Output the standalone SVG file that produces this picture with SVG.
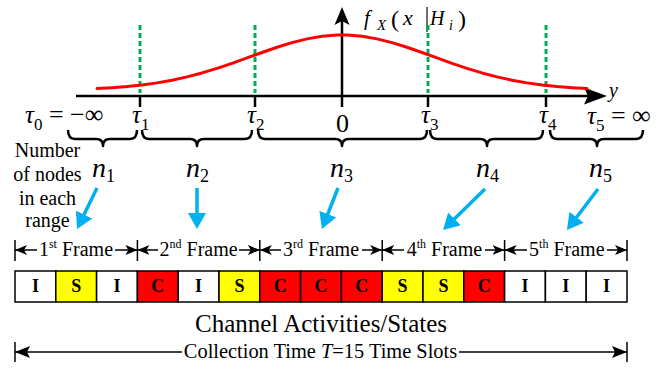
<svg xmlns="http://www.w3.org/2000/svg" width="671" height="371" viewBox="0 0 671 371">
<style>
text{font-family:"Liberation Serif","Times New Roman",serif;fill:#000}
.it{font-style:italic}
.ax{stroke:#000;stroke-width:2.5;fill:none}
.thr{stroke:#00B050;stroke-width:3;stroke-dasharray:5 3;fill:none}
.br{stroke:#000;stroke-width:2.5;fill:none;stroke-linejoin:round}
.blue{stroke:#00B0F0;stroke-width:3.5;fill:none;marker-end:url(#ab)}
.fl{stroke:#000;stroke-width:1.5;fill:none}
.tk{stroke:#000;stroke-width:1.5}
.cell{stroke:#000;stroke-width:1.5}
.I{fill:#FFFFFF}.S{fill:#FFFF00}.C{fill:#FF0000}
.cl{font-weight:bold;font-size:18px;text-anchor:middle}
.fr{font-size:20px;text-anchor:middle}
.tau{font-size:25px;font-style:italic}
.sub{font-size:17px}
</style>
<defs>
<marker id="ab" viewBox="0 0 16 18" refX="6" refY="9" markerWidth="16" markerHeight="18" markerUnits="userSpaceOnUse" orient="auto"><path d="M0,0 L16,9 L0,18 z" fill="#00B0F0"/></marker>
<marker id="af" viewBox="0 0 12 10" refX="12" refY="5" markerWidth="12" markerHeight="10" markerUnits="userSpaceOnUse" orient="auto-start-reverse"><path d="M0,0 L12,5 L0,10 L3,5 z" fill="#000"/></marker>
<marker id="ac" viewBox="0 0 15 12" refX="15" refY="6" markerWidth="15" markerHeight="12" markerUnits="userSpaceOnUse" orient="auto-start-reverse"><path d="M0,0 L15,6 L0,12 L3,6 z" fill="#000"/></marker>
</defs>

<g id="axes">
<line class="ax" x1="76" y1="96" x2="592" y2="96"/>
<path d="M607,96 L584,87.5 L588,96 L584,104.5 z" fill="#000"/>
<line class="ax" x1="342" y1="107" x2="342" y2="20"/>
<path d="M342,7 L334.5,25 L342,21 L349.5,25 z" fill="#000"/>
<line class="ax" x1="140" y1="96" x2="140" y2="107"/>
<line class="ax" x1="255" y1="96" x2="255" y2="107"/>
<line class="ax" x1="428" y1="96" x2="428" y2="107"/>
<line class="ax" x1="546" y1="96" x2="546" y2="107"/>
<text class="it" x="609" y="97" font-size="20">y</text>
</g>

<g id="pdf-label">
<text class="it" x="364" y="25" font-size="21">f</text>
<text class="it" x="377" y="30" font-size="15">X</text>
<text x="391" y="27" font-size="24">(</text>
<text class="it" x="403" y="25" font-size="22">x</text>
<line x1="427" y1="7" x2="427" y2="32" stroke="#404040" stroke-width="1.5"/>
<text class="it" x="430" y="25" font-size="20">H</text>
<text class="it" x="449" y="30" font-size="14">i</text>
<text x="458" y="27" font-size="24">)</text>
</g>

<g id="thresholds">
<line class="thr" x1="140" y1="25" x2="140" y2="93"/>
<line class="thr" x1="255" y1="25" x2="255" y2="93"/>
<line class="thr" x1="428" y1="25" x2="428" y2="93"/>
<line class="thr" x1="546" y1="25" x2="546" y2="93"/>
</g>

<g id="curve">
<polyline fill="none" stroke="#FF0000" stroke-width="3" stroke-linecap="round" stroke-linejoin="round" points="97,88.48 112,87.66 127,86.52 142,84.96 157,82.88 172,80.21 187,76.91 202,72.93 217,68.37 232,63.3 247,57.93 262,52.49 277,47.26 292,42.64 307,38.89 322,36.31 337,35.08 342,35 347,35.08 362,36.31 377,38.89 392,42.64 407,47.26 422,52.49 437,57.93 452,63.3 467,68.37 482,72.93 497,76.91 512,80.21 527,82.88 542,84.96 557,86.52 572,87.66 587,88.48"/>
</g>

<g id="tau-labels">
<text x="25" y="123"><tspan class="tau">τ</tspan><tspan class="sub" dy="7">0</tspan><tspan font-size="26" dy="-7"> = −∞</tspan></text>
<text x="132" y="123"><tspan class="tau">τ</tspan><tspan class="sub" dy="7">1</tspan></text>
<text x="247" y="123"><tspan class="tau">τ</tspan><tspan class="sub" dy="7">2</tspan></text>
<text x="342.5" y="132" font-size="26" text-anchor="middle">0</text>
<text x="421" y="123"><tspan class="tau">τ</tspan><tspan class="sub" dy="7">3</tspan></text>
<text x="539" y="123"><tspan class="tau">τ</tspan><tspan class="sub" dy="7">4</tspan></text>
<text x="587" y="124"><tspan class="tau">τ</tspan><tspan class="sub" dy="7">5</tspan><tspan font-size="26" dy="-7"> = ∞</tspan></text>
</g>

<g id="braces">
<path class="br" d="M68,130 Q68,139 75,139 L96,139 Q103,139 103,146 Q103,139 110,139 L130,139 Q137,139 137,130"/>
<path class="br" d="M142,130 Q142,139 149,139 L190,139 Q197,139 197,146 Q197,139 204,139 L245,139 Q252,139 252,130"/>
<path class="br" d="M258,130 Q258,139 265,139 L335,139 Q342,139 342,146 Q342,139 349,139 L420,139 Q427,139 427,130"/>
<path class="br" d="M430,130 Q430,139 437,139 L480,139 Q487,139 487,146 Q487,139 494,139 L536,139 Q543,139 543,130"/>
<path class="br" d="M550,130 Q550,139 557,139 L590,139 Q597,139 597,146 Q597,139 604,139 L636,139 Q643,139 643,130"/>
</g>

<g id="range-note">
<text x="47.5" y="157" font-size="20" text-anchor="middle">Number</text>
<text x="47.5" y="181" font-size="20" text-anchor="middle">of nodes</text>
<text x="47.5" y="204.5" font-size="20" text-anchor="middle">in each</text>
<text x="47.5" y="227" font-size="20" text-anchor="middle">range</text>
</g>

<g id="counts">
<text x="92" y="177"><tspan class="it" font-size="28">n</tspan><tspan font-size="18" dy="5">1</tspan></text>
<text x="186" y="177"><tspan class="it" font-size="28">n</tspan><tspan font-size="18" dy="5">2</tspan></text>
<text x="330" y="177"><tspan class="it" font-size="28">n</tspan><tspan font-size="18" dy="5">3</tspan></text>
<text x="476" y="177"><tspan class="it" font-size="28">n</tspan><tspan font-size="18" dy="5">4</tspan></text>
<text x="589" y="177"><tspan class="it" font-size="28">n</tspan><tspan font-size="18" dy="5">5</tspan></text>
</g>

<g id="connectors">
<line class="blue" x1="97" y1="188" x2="81.4" y2="220"/>
<line class="blue" x1="197" y1="188" x2="197" y2="219"/>
<line class="blue" x1="338" y1="188" x2="325.6" y2="219.7"/>
<line class="blue" x1="485" y1="189" x2="450.2" y2="223"/>
<line class="blue" x1="598" y1="189" x2="573" y2="222"/>
</g>

<g id="frames">
<line class="tk" x1="15" y1="240" x2="15" y2="261"/>
<line class="tk" x1="137.4" y1="240" x2="137.4" y2="261"/>
<line class="tk" x1="259.8" y1="240" x2="259.8" y2="261"/>
<line class="tk" x1="382.2" y1="240" x2="382.2" y2="261"/>
<line class="tk" x1="504.6" y1="240" x2="504.6" y2="261"/>
<line class="tk" x1="627" y1="240" x2="627" y2="261"/>
<line class="fl" x1="15" y1="250" x2="37" y2="250" marker-start="url(#af)"/>
<line class="fl" x1="115" y1="250" x2="137.4" y2="250" marker-end="url(#af)"/>
<text class="fr" x="76" y="256">1<tspan font-size="12" dy="-8">st</tspan><tspan dy="8"> Frame</tspan></text>
<line class="fl" x1="137.4" y1="250" x2="158" y2="250" marker-start="url(#af)"/>
<line class="fl" x1="239" y1="250" x2="259.8" y2="250" marker-end="url(#af)"/>
<text class="fr" x="198.6" y="256">2<tspan font-size="12" dy="-8">nd</tspan><tspan dy="8"> Frame</tspan></text>
<line class="fl" x1="259.8" y1="250" x2="281" y2="250" marker-start="url(#af)"/>
<line class="fl" x1="362" y1="250" x2="382.2" y2="250" marker-end="url(#af)"/>
<text class="fr" x="321" y="256">3<tspan font-size="12" dy="-8">rd</tspan><tspan dy="8"> Frame</tspan></text>
<line class="fl" x1="382.2" y1="250" x2="404" y2="250" marker-start="url(#af)"/>
<line class="fl" x1="485" y1="250" x2="504.6" y2="250" marker-end="url(#af)"/>
<text class="fr" x="444.4" y="256">4<tspan font-size="12" dy="-8">th</tspan><tspan dy="8"> Frame</tspan></text>
<line class="fl" x1="504.6" y1="250" x2="527" y2="250" marker-start="url(#af)"/>
<line class="fl" x1="607" y1="250" x2="627" y2="250" marker-end="url(#af)"/>
<text class="fr" x="566.8" y="256">5<tspan font-size="12" dy="-8">th</tspan><tspan dy="8"> Frame</tspan></text>
</g>

<g id="slots">
<rect class="cell I" x="15" y="271" width="40.8" height="31"/>
<rect class="cell S" x="55.8" y="271" width="40.8" height="31"/>
<rect class="cell I" x="96.6" y="271" width="40.8" height="31"/>
<rect class="cell C" x="137.4" y="271" width="40.8" height="31"/>
<rect class="cell I" x="178.2" y="271" width="40.8" height="31"/>
<rect class="cell S" x="219" y="271" width="40.8" height="31"/>
<rect class="cell C" x="259.8" y="271" width="40.8" height="31"/>
<rect class="cell C" x="300.6" y="271" width="40.8" height="31"/>
<rect class="cell C" x="341.4" y="271" width="40.8" height="31"/>
<rect class="cell S" x="382.2" y="271" width="40.8" height="31"/>
<rect class="cell S" x="423" y="271" width="40.8" height="31"/>
<rect class="cell C" x="463.8" y="271" width="40.8" height="31"/>
<rect class="cell I" x="504.6" y="271" width="40.8" height="31"/>
<rect class="cell I" x="545.4" y="271" width="40.8" height="31"/>
<rect class="cell I" x="586.2" y="271" width="40.8" height="31"/>
<text class="cl" x="35.4" y="292">I</text>
<text class="cl" x="76.2" y="292">S</text>
<text class="cl" x="117" y="292">I</text>
<text class="cl" x="157.8" y="292">C</text>
<text class="cl" x="198.6" y="292">I</text>
<text class="cl" x="239.4" y="292">S</text>
<text class="cl" x="280.2" y="292">C</text>
<text class="cl" x="321" y="292">C</text>
<text class="cl" x="361.8" y="292">C</text>
<text class="cl" x="402.6" y="292">S</text>
<text class="cl" x="443.4" y="292">S</text>
<text class="cl" x="484.2" y="292">C</text>
<text class="cl" x="525" y="292">I</text>
<text class="cl" x="565.8" y="292">I</text>
<text class="cl" x="606.6" y="292">I</text>
</g>

<g id="caption">
<text x="321" y="332" font-size="25" text-anchor="middle">Channel Activities/States</text>
<line class="tk" x1="15" y1="342" x2="15" y2="362"/>
<line class="tk" x1="627" y1="342" x2="627" y2="362"/>
<line class="fl" x1="15" y1="352" x2="182" y2="352" marker-start="url(#ac)"/>
<line class="fl" x1="459" y1="352" x2="627" y2="352" marker-end="url(#ac)"/>
<text x="320.5" y="358" font-size="20.4" text-anchor="middle">Collection Time <tspan font-style="italic">T</tspan>=15 Time Slots</text>
</g>
</svg>
